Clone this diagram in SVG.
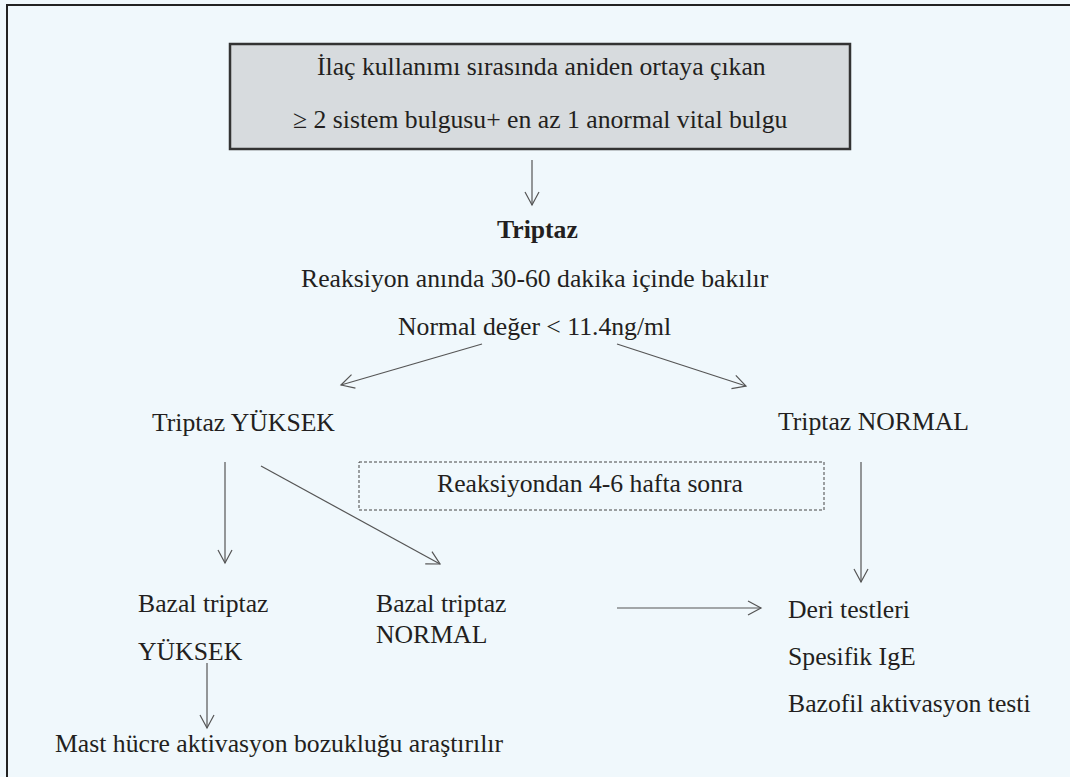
<svg xmlns="http://www.w3.org/2000/svg" width="1070" height="777" viewBox="0 0 1070 777">
  <style>
    .t { font-family: "Liberation Serif", "Times New Roman", serif; font-size: 25.7px; fill: #231f20; }
    .b { font-weight: bold; }
    .c { stroke: #555; stroke-width: 1.2; fill: none; }
  </style>
  <defs>
    <marker id="v" markerUnits="userSpaceOnUse" viewBox="0 0 16 16" markerWidth="16" markerHeight="16" refX="14" refY="8" orient="auto">
      <path d="M1,1 L14,8 L1,15" fill="none" stroke="#555" stroke-width="1.2"/>
    </marker>
  </defs>

  <!-- page background and frame -->
  <rect x="0" y="0" width="1070" height="777" fill="#f0f8fc"/>
  <path d="M7,777 V5 H1070" fill="none" stroke="#222" stroke-width="2"/>

  <!-- header box -->
  <g id="start">
    <rect x="230" y="44" width="620" height="105" fill="#d7dbde" stroke="#333" stroke-width="2.5"/>
    <text class="t" x="317" y="75">İlaç kullanımı sırasında aniden ortaya çıkan</text>
    <text class="t" x="293" y="128">≥ 2 sistem bulgusu+ en az 1 anormal vital bulgu</text>
  </g>

  <g id="triptaz">
    <text class="t b" x="497" y="238">Triptaz</text>
    <text class="t" x="301" y="287">Reaksiyon anında 30-60 dakika içinde bakılır</text>
    <text class="t" x="398" y="335">Normal değer &lt; 11.4ng/ml</text>
  </g>

  <g id="high">
    <text class="t" x="152" y="431">Triptaz YÜKSEK</text>
  </g>

  <g id="normal">
    <text class="t" x="778" y="430">Triptaz NORMAL</text>
  </g>

  <g id="timing">
    <rect x="359" y="462" width="465" height="48" fill="none" stroke="#444" stroke-width="1" stroke-dasharray="3,2"/>
    <text class="t" x="437" y="492">Reaksiyondan 4-6 hafta sonra</text>
  </g>

  <g id="basal-high">
    <text class="t" x="138" y="612">Bazal triptaz</text>
    <text class="t" x="138" y="660">YÜKSEK</text>
  </g>

  <g id="basal-normal">
    <text class="t" x="376" y="612">Bazal triptaz</text>
    <text class="t" x="376" y="643">NORMAL</text>
  </g>

  <g id="tests">
    <text class="t" x="788" y="618">Deri testleri</text>
    <text class="t" x="788" y="665">Spesifik IgE</text>
    <text class="t" x="788" y="712">Bazofil aktivasyon testi</text>
  </g>

  <g id="mast">
    <text class="t" x="55" y="752">Mast hücre aktivasyon bozukluğu araştırılır</text>
  </g>

  <!-- connectors -->
  <g id="connectors">
    <line class="c" x1="532" y1="160" x2="532" y2="205" marker-end="url(#v)"/>
    <line class="c" x1="482" y1="344" x2="341" y2="385" marker-end="url(#v)"/>
    <line class="c" x1="617" y1="344" x2="746" y2="386" marker-end="url(#v)"/>
    <line class="c" x1="225" y1="462" x2="225" y2="563" marker-end="url(#v)"/>
    <line class="c" x1="261" y1="466" x2="440" y2="564" marker-end="url(#v)"/>
    <line class="c" x1="861" y1="462" x2="861" y2="582" marker-end="url(#v)"/>
    <line class="c" x1="617" y1="608" x2="761" y2="608" marker-end="url(#v)"/>
    <line class="c" x1="207" y1="663" x2="207" y2="728" marker-end="url(#v)"/>
  </g>
</svg>
